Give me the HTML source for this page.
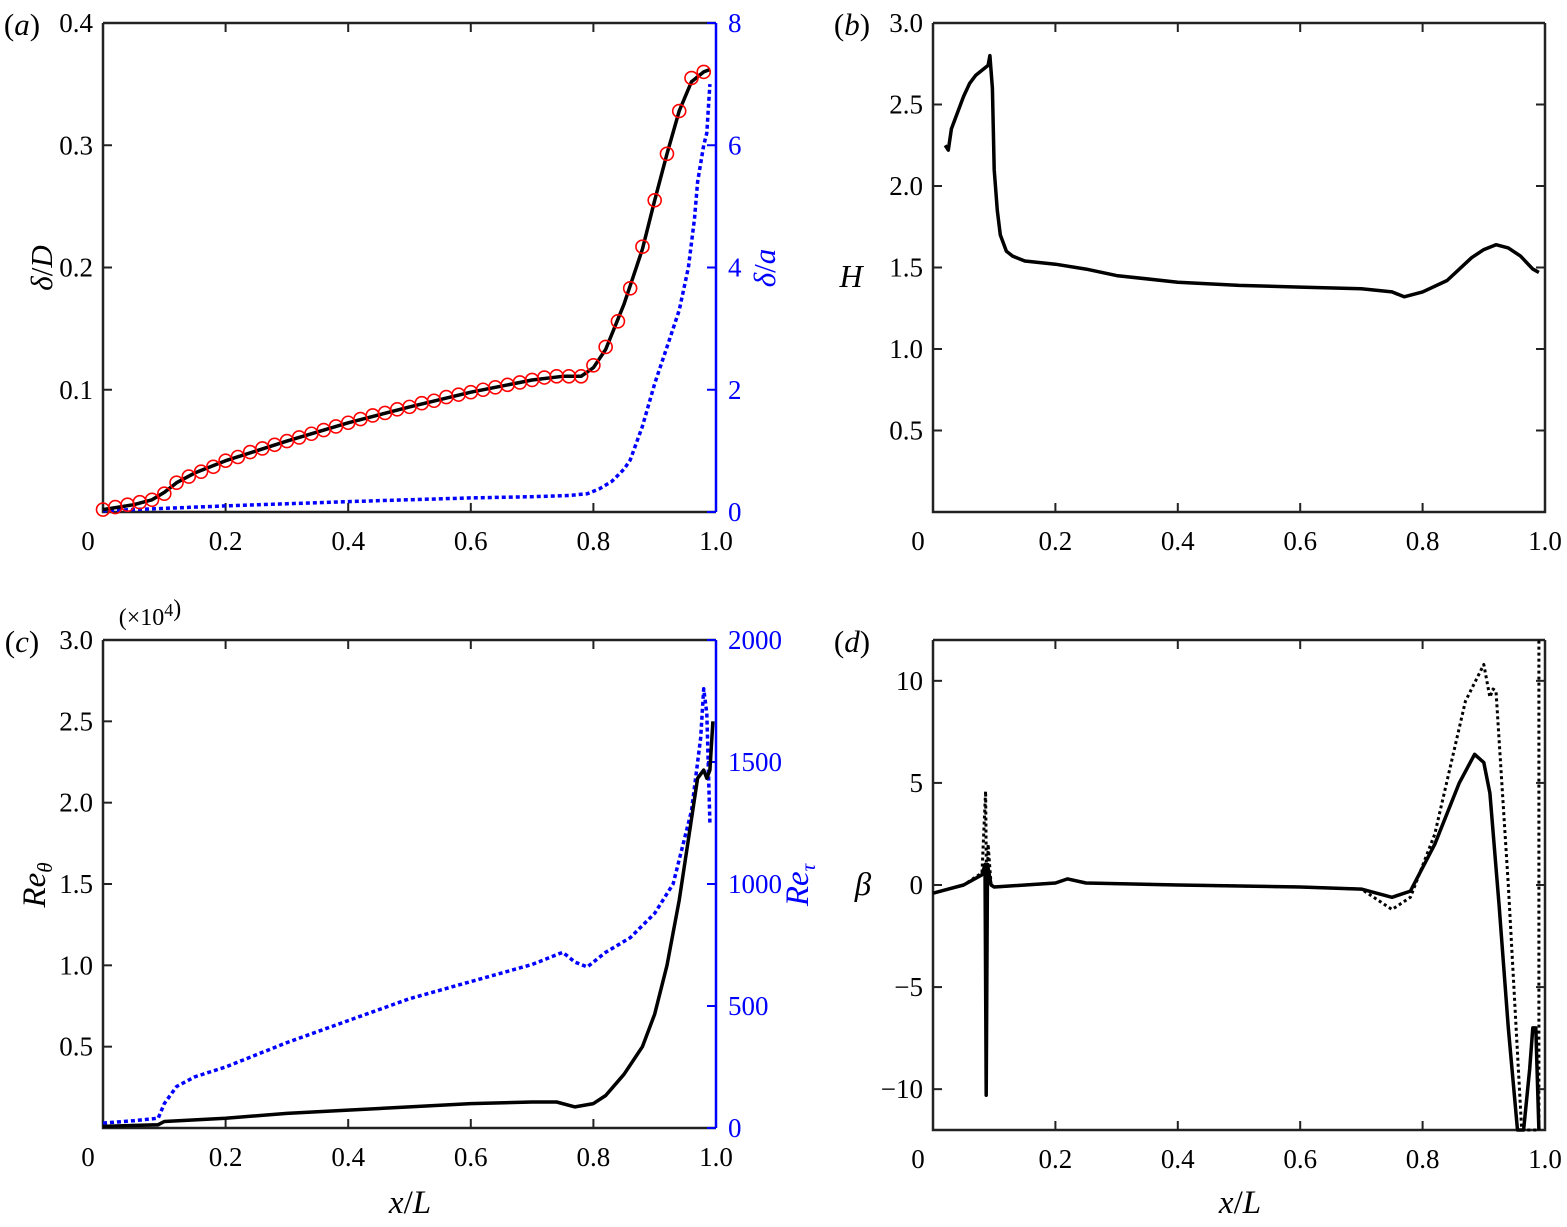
<!DOCTYPE html>
<html><head><meta charset="utf-8"><style>
body{margin:0;background:#fff}
svg{display:block;font-family:"Liberation Serif",serif}
text{font-size:27px}
</style></head><body>
<svg id="s" width="1567" height="1227" viewBox="0 0 1567 1227"></svg>
<script>
// panel a
const aX=[0,0.05,0.08,0.1,0.12,0.15,0.2,0.3,0.4,0.5,0.6,0.7,0.75,0.78,0.8,0.82,0.85,0.88,0.9,0.92,0.94,0.96,0.98,0.99];
const aY=[0.002,0.006,0.01,0.016,0.024,0.032,0.042,0.058,0.073,0.086,0.098,0.108,0.111,0.111,0.118,0.133,0.17,0.215,0.255,0.293,0.328,0.352,0.36,0.362];
const aMX=[0,0.02,0.04,0.06,0.08,0.1,0.12,0.14,0.16,0.18,0.2,0.22,0.24,0.26,0.28,0.3,0.32,0.34,0.36,0.38,0.4,0.42,0.44,0.46,0.48,0.5,0.52,0.54,0.56,0.58,0.6,0.62,0.64,0.66,0.68,0.7,0.72,0.74,0.76,0.78,0.8,0.82,0.84,0.86,0.88,0.9,0.92,0.94,0.96,0.98];
const aMY=[0.002,0.004,0.006,0.008,0.01,0.015,0.024,0.029,0.033,0.037,0.042,0.045,0.049,0.052,0.055,0.058,0.061,0.064,0.067,0.07,0.073,0.076,0.079,0.081,0.084,0.086,0.089,0.091,0.094,0.096,0.098,0.1,0.102,0.104,0.106,0.108,0.11,0.111,0.111,0.111,0.12,0.135,0.156,0.183,0.217,0.255,0.293,0.328,0.355,0.36];
const aBX=[0,0.2,0.4,0.6,0.7,0.76,0.79,0.81,0.83,0.85,0.86,0.88,0.9,0.92,0.94,0.955,0.965,0.97,0.98,0.985,0.99];
const aBY=[0.02,0.1,0.17,0.23,0.25,0.27,0.3,0.38,0.5,0.7,0.85,1.4,2.1,2.7,3.3,4.0,4.8,5.4,6.0,6.2,7.0];
// panel b
const bX=[0.02,0.025,0.03,0.04,0.05,0.06,0.07,0.08,0.09,0.093,0.097,0.1,0.105,0.11,0.12,0.13,0.15,0.2,0.25,0.3,0.4,0.5,0.6,0.7,0.75,0.77,0.8,0.84,0.88,0.9,0.92,0.94,0.96,0.98,0.99];
const bY=[2.25,2.22,2.35,2.45,2.55,2.63,2.68,2.71,2.74,2.8,2.6,2.1,1.85,1.7,1.6,1.57,1.54,1.52,1.49,1.45,1.41,1.39,1.38,1.37,1.35,1.32,1.35,1.42,1.56,1.61,1.64,1.62,1.57,1.49,1.47];
// panel c
const cX=[0,0.09,0.1,0.2,0.3,0.4,0.5,0.6,0.7,0.74,0.77,0.8,0.82,0.85,0.88,0.9,0.92,0.94,0.96,0.97,0.98,0.985,0.99,0.995];
const cY=[0.01,0.02,0.04,0.06,0.09,0.11,0.13,0.15,0.16,0.16,0.13,0.15,0.2,0.33,0.5,0.7,1.0,1.4,1.9,2.15,2.2,2.15,2.2,2.5];
const cBX=[0,0.05,0.09,0.1,0.12,0.15,0.2,0.3,0.4,0.5,0.6,0.7,0.75,0.77,0.79,0.82,0.86,0.9,0.93,0.96,0.975,0.98,0.985,0.99];
const cBY=[20,30,40,100,170,210,250,350,440,530,600,670,720,680,660,720,780,880,1000,1300,1600,1800,1700,1250];
// panel d
const dX=[0,0.05,0.08,0.085,0.087,0.089,0.095,0.1,0.2,0.22,0.25,0.4,0.6,0.7,0.75,0.78,0.82,0.86,0.885,0.9,0.91,0.925,0.94,0.955,0.965,0.975,0.98,0.985,0.99];
const dY=[-0.4,0,0.5,1,-10.3,1,0,-0.1,0.1,0.3,0.1,0,-0.1,-0.2,-0.6,-0.3,2,5,6.4,6,4.5,-1,-7,-12,-12,-9,-7,-7,-12];
const dDX=[0,0.05,0.08,0.086,0.088,0.09,0.095,0.1,0.2,0.22,0.25,0.4,0.6,0.7,0.75,0.78,0.82,0.87,0.9,0.91,0.915,0.92,0.94,0.962,0.97,0.985,0.99,0.99];
const dDY=[-0.4,0,0.6,4.6,-2,2,0,-0.1,0.1,0.3,0.1,0,-0.1,-0.2,-1.2,-0.6,2.5,9,10.8,9.2,9.6,9.5,0,-12,-12,-12,-12,12];

const S=document.getElementById('s');const NS='http://www.w3.org/2000/svg';
function el(t,a,p){const e=document.createElementNS(NS,t);for(const k in a)e.setAttribute(k,a[k]);(p||S).appendChild(e);return e;}
function panel(x0,x1,y0,y1,xmin,xmax,ymin,ymax,name){
  const g=el('g',{});
  
  
  return {g,sx:v=>x0+(v-xmin)/(xmax-xmin)*(x1-x0),sy:v=>y1-(v-ymin)/(ymax-ymin)*(y1-y0),x0,x1,y0,y1};
}
function line(P,X,Y,sy,attrs,name){
  const d=X.map((v,i)=>(i?'L':'M')+P.sx(v).toFixed(1)+' '+sy(Y[i]).toFixed(1)).join('');
  const p=el('path',Object.assign({d,fill:'none','stroke-linejoin':'round'},attrs),P.g);
  
  
}
function txt(x,y,s,anchor,color,name,extra){
  const t=el('text',Object.assign({x,y,'text-anchor':anchor||'middle',fill:color||'#000'},extra||{}));
  t.innerHTML=s;
  
  
  return t;
}
function frame(P,xt,xl,yt,yl,name,rightBlue){
  const a=el('path',{d:`M${P.x0} ${P.y0}L${P.x0} ${P.y1}L${P.x1} ${P.y1}`+(rightBlue?'':`L${P.x1} ${P.y0}`)+`M${P.x0} ${P.y0}L${P.x1} ${P.y0}`,fill:'none',stroke:'#222','stroke-width':2.5},P.g);
  
  
  xt.forEach((v,i)=>{const x=P.sx(v);
    if(i>0&&i<xt.length-1){el('line',{x1:x,x2:x,y1:P.y1,y2:P.y1-9,stroke:'#222','stroke-width':2},P.g);el('line',{x1:x,x2:x,y1:P.y0,y2:P.y0+9,stroke:'#222','stroke-width':2},P.g);}
    txt(i==0?x-15:x,P.y1+38,xl[i],'middle','#000',name+'-xtick');});
  yt.forEach((v,i)=>{const y=P.sy(v);
    el('line',{x1:P.x0,x2:P.x0+9,y1:y,y2:y,stroke:'#222','stroke-width':2},P.g);
    if(!rightBlue)el('line',{x1:P.x1,x2:P.x1-9,y1:y,y2:y,stroke:'#222','stroke-width':2},P.g);
    txt(P.x0-10,y+9,yl[i],'end','#000',name+'-ytick');});
}
function rightBlueAxis(P,ymin,ymax,ticks,name){
  const sy=v=>P.y1-(v-ymin)/(ymax-ymin)*(P.y1-P.y0);
  el('line',{x1:P.x1,x2:P.x1,y1:P.y0,y2:P.y1,stroke:'#00f','stroke-width':2.5},P.g);
  ticks.forEach(v=>{const y=sy(v);el('line',{x1:P.x1,x2:P.x1-9,y1:y,y2:y,stroke:'#00f','stroke-width':2},P.g);
    txt(P.x1+12,y+9,String(v),'start','#00f',name+'-rtick');});
  return sy;
}
const L='font-size:31px';
// (a)
let A=panel(103,716,23,512,0,1,0,0.4,'panel-a');
frame(A,[0,0.2,0.4,0.6,0.8,1],['0','0.2','0.4','0.6','0.8','1.0'],[0.1,0.2,0.3,0.4],['0.1','0.2','0.3','0.4'],'panel-a',true);
const aR=rightBlueAxis(A,0,8,[0,2,4,6,8],'panel-a');
line(A,aBX,aBY,aR,{stroke:'#00f','stroke-width':3.5,'stroke-dasharray':'4 3'},'delta-a-line');
line(A,aX,aY,A.sy,{stroke:'#000','stroke-width':3.5},'delta-D-line');
aMX.forEach((v,i)=>{const c=el('circle',{cx:A.sx(v),cy:A.sy(aMY[i]),r:6.5,fill:'none',stroke:'#f00','stroke-width':1.6},A.g);
  
  });
txt(22,35,'(<tspan font-style="italic">a</tspan>)','middle','#000','panel-a-label',{style:L});
txt(52,268,'<tspan font-style="italic">δ</tspan>/<tspan font-style="italic">D</tspan>','middle','#000','y-axis-title-a',{transform:'rotate(-90 52 268)',style:L});
txt(775,268,'<tspan font-style="italic">δ</tspan>/<tspan font-style="italic">a</tspan>','middle','#00f','y-axis-title-a-right',{transform:'rotate(-90 775 268)',style:L});
// (b)
let B=panel(933,1545,23,512,0,1,0,3,'panel-b');
frame(B,[0,0.2,0.4,0.6,0.8,1],['0','0.2','0.4','0.6','0.8','1.0'],[0.5,1,1.5,2,2.5,3],['0.5','1.0','1.5','2.0','2.5','3.0'],'panel-b',false);
line(B,bX,bY,B.sy,{stroke:'#000','stroke-width':3.5},'H-line');
txt(852,35,'(<tspan font-style="italic">b</tspan>)','middle','#000','panel-b-label',{style:L});
txt(851,287,'H','middle','#000','y-axis-title-b',{'font-style':'italic',style:'font-size:32px'});
// (c)
let C=panel(103,716,640,1128,0,1,0,3,'panel-c');
frame(C,[0,0.2,0.4,0.6,0.8,1],['0','0.2','0.4','0.6','0.8','1.0'],[0.5,1,1.5,2,2.5,3],['0.5','1.0','1.5','2.0','2.5','3.0'],'panel-c',true);
const cR=rightBlueAxis(C,0,2000,[0,500,1000,1500,2000],'panel-c');
line(C,cBX,cBY,cR,{stroke:'#00f','stroke-width':3.5,'stroke-dasharray':'4 3'},'Re-tau-line');
line(C,cX,cY,C.sy,{stroke:'#000','stroke-width':3.5},'Re-theta-line');
txt(22,652,'(<tspan font-style="italic">c</tspan>)','middle','#000','panel-c-label',{style:L});
txt(150,625,'(×10<tspan dy="-9" style="font-size:18px">4</tspan>)','middle','#000','exponent-label',{style:'font-size:24px'});
txt(45,885,'<tspan font-style="italic">Re<tspan style="font-size:21px" dy="7">θ</tspan></tspan>','middle','#000','y-axis-title-c',{transform:'rotate(-90 45 885)',style:'font-size:33px'});
txt(808,885,'<tspan font-style="italic">Re<tspan style="font-size:21px" dy="7">τ</tspan></tspan>','middle','#00f','y-axis-title-c-right',{transform:'rotate(-90 808 885)',style:'font-size:33px'});
txt(410,1213,'<tspan font-style="italic">x</tspan>/<tspan font-style="italic">L</tspan>','middle','#000','x-axis-title-c',{style:'font-size:33px'});
// (d)
let D=panel(933,1545,640,1130,0,1,-12,12,'panel-d');
frame(D,[0,0.2,0.4,0.6,0.8,1],['0','0.2','0.4','0.6','0.8','1.0'],[-10,-5,0,5,10],['−10','−5','0','5','10'],'panel-d',false);
line(D,dDX,dDY,D.sy,{stroke:'#000','stroke-width':3,'stroke-dasharray':'3 3'},'beta-dotted-line');
line(D,dX,dY,D.sy,{stroke:'#000','stroke-width':3.5},'beta-line');
txt(852,652,'(<tspan font-style="italic">d</tspan>)','middle','#000','panel-d-label',{style:L});
txt(863,895,'β','middle','#000','y-axis-title-d',{'font-style':'italic',style:'font-size:33px'});
txt(1240,1213,'<tspan font-style="italic">x</tspan>/<tspan font-style="italic">L</tspan>','middle','#000','x-axis-title-d',{style:'font-size:33px'});
</script>
</body></html>
